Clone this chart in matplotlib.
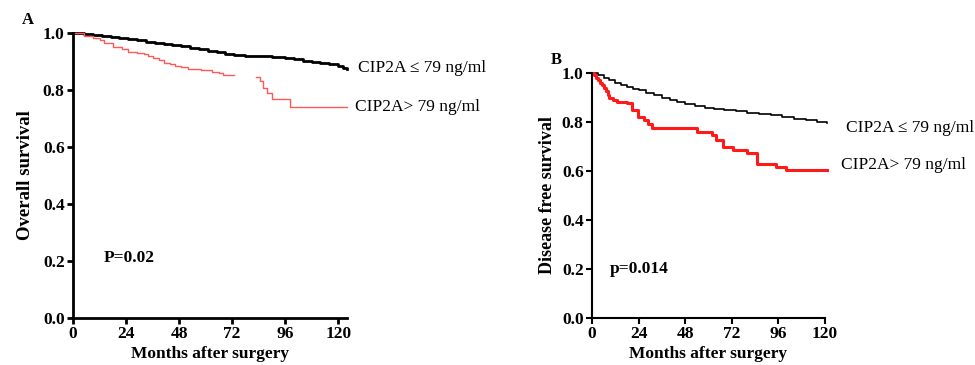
import matplotlib
matplotlib.use("Agg")
import matplotlib.pyplot as plt

plt.rcParams['font.family'] = ['Liberation Serif', 'DejaVu Serif']
plt.rcParams['font.weight'] = 'bold'

# ---- data ----
month_ticks = [0, 24, 48, 72, 96, 120]
surv_ticks = [0.0, 0.2, 0.4, 0.6, 0.8, 1.0]

# panel A: overall survival
os_low_t = [0, 5, 9, 13, 17, 21, 25, 29, 33, 37, 41, 45, 49, 53, 57, 61, 65, 69,
            73, 78, 84, 90, 96, 100, 104, 108, 112, 116, 120, 122, 124]
os_low_s = [1.0, 0.997, 0.994, 0.99, 0.986, 0.982, 0.978, 0.974, 0.97, 0.966,
            0.962, 0.958, 0.953, 0.948, 0.943, 0.938, 0.933, 0.928, 0.924, 0.921,
            0.918, 0.915, 0.912, 0.908, 0.903, 0.898, 0.894, 0.89, 0.885, 0.878, 0.875]
os_high_t1 = [0, 5, 9, 12, 14, 18, 22, 25, 29, 32, 34, 36, 39, 41, 44, 46, 49,
              52, 58, 63, 66, 68, 73]
os_high_s1 = [1.0, 0.99, 0.982, 0.975, 0.965, 0.952, 0.945, 0.935, 0.93, 0.925,
              0.918, 0.912, 0.905, 0.895, 0.89, 0.885, 0.879, 0.874, 0.869, 0.864,
              0.858, 0.853, 0.853]
os_high_t2 = [83, 84.5, 86, 88, 90, 98, 124]
os_high_s2 = [0.846, 0.83, 0.807, 0.79, 0.768, 0.74, 0.74]

# panel B: disease free survival
dfs_low_t = [0, 3, 6, 9, 12, 15, 18, 21, 24, 28, 32, 36, 40, 44, 48, 53, 58, 63,
             68, 74, 80, 86, 92, 98, 104, 110, 116, 121]
dfs_low_s = [1.0, 0.99, 0.98, 0.97, 0.961, 0.952, 0.944, 0.936, 0.929, 0.92,
             0.91, 0.9, 0.89, 0.881, 0.873, 0.866, 0.859, 0.853, 0.848, 0.843,
             0.838, 0.833, 0.827, 0.821, 0.814, 0.807, 0.801, 0.795]
dfs_high_t = [0, 1, 2, 3, 4, 5, 6, 7, 8, 9, 11, 13, 18, 20.5, 23.5, 27, 29, 31,
              49, 54, 62, 64, 67.5, 72.5, 80, 85, 95, 100, 121]
dfs_high_s = [1.0, 0.99, 0.98, 0.97, 0.96, 0.95, 0.94, 0.925, 0.91, 0.897,
              0.89, 0.883, 0.877, 0.849, 0.822, 0.808, 0.79, 0.776, 0.776, 0.761,
              0.747, 0.725, 0.70, 0.686, 0.673, 0.63, 0.617, 0.604, 0.604]

lab_low = "CIP2A \u2264 79 ng/ml"
lab_high = "CIP2A> 79 ng/ml"

fig = plt.figure(figsize=(9.75, 3.65), dpi=100)
W, H = 975, 365


def make_axes(x0, x1, y_top, y_bot, spine_w):
    ax = fig.add_axes([x0 / W, (H - y_bot) / H, (x1 - x0) / W, (y_bot - y_top) / H])
    for s in ['top', 'right']:
        ax.spines[s].set_visible(False)
    for s in ['left', 'bottom']:
        ax.spines[s].set_linewidth(spine_w)
    ax.set_ylim(0, 1.0)
    ax.set_yticks(surv_ticks)
    ax.set_yticklabels([f"{v:.1f}" for v in surv_ticks])
    ax.set_xticks(month_ticks)
    ax.tick_params(width=spine_w, length=4, labelsize=12.5, pad=2)
    for lbl in ax.get_xticklabels() + ax.get_yticklabels():
        lbl.set_fontweight('bold')
    return ax


# ---- panel A ----
axA = make_axes(73, 347, 33, 318, 2.0)
axA.set_xlim(0, 124)
axA.step(os_low_t, os_low_s, where='post', color='black', lw=2.0, clip_on=False)
axA.step(os_high_t1, os_high_s1, where='post', color='#ff5a5a', lw=1.0, clip_on=False)
axA.step(os_high_t2, os_high_s2, where='post', color='#ff5a5a', lw=1.0, clip_on=False)
axA.set_ylabel("Overall survival", fontsize=13.5, fontweight='bold', labelpad=6)
axA.set_xlabel("Months after surgery", fontsize=12.5, fontweight='bold', labelpad=3)
axA.text(14, 0.21, "P=0.02", fontsize=12.5, fontweight='bold', va='center')
axA.text(1.04, 0.877, lab_low, transform=axA.get_yaxis_transform(), fontsize=12.5,
         fontweight='normal', va='center')
axA.text(1.03, 0.74, lab_high, transform=axA.get_yaxis_transform(), fontsize=12.5,
         fontweight='normal', va='center')
fig.text(22 / W, 1 - 20 / H, "A", fontsize=12, fontweight='bold', va='center')

# ---- panel B ----
axB = make_axes(592, 825, 73, 318, 1.5)
axB.set_xlim(0, 120)
axB.step(dfs_low_t, dfs_low_s, where='post', color='black', lw=1.2, clip_on=False)
axB.step(dfs_high_t, dfs_high_s, where='post', color='#ff1a1a', lw=2.2, clip_on=False)
axB.set_ylabel("Disease free survival", fontsize=13, fontweight='bold', labelpad=4)
axB.set_xlabel("Months after surgery", fontsize=12.5, fontweight='bold', labelpad=3)
axB.text(9, 0.2, "p=0.014", fontsize=12.5, fontweight='bold', va='center')
axB.text(1.09, 0.776, lab_low, transform=axB.get_yaxis_transform(), fontsize=12.5,
         fontweight='normal', va='center')
axB.text(1.07, 0.624, lab_high, transform=axB.get_yaxis_transform(), fontsize=12.5,
         fontweight='normal', va='center')
fig.text(551 / W, 1 - 60 / H, "B", fontsize=12, fontweight='bold', va='center')

fig.savefig("out.png", dpi=100)
